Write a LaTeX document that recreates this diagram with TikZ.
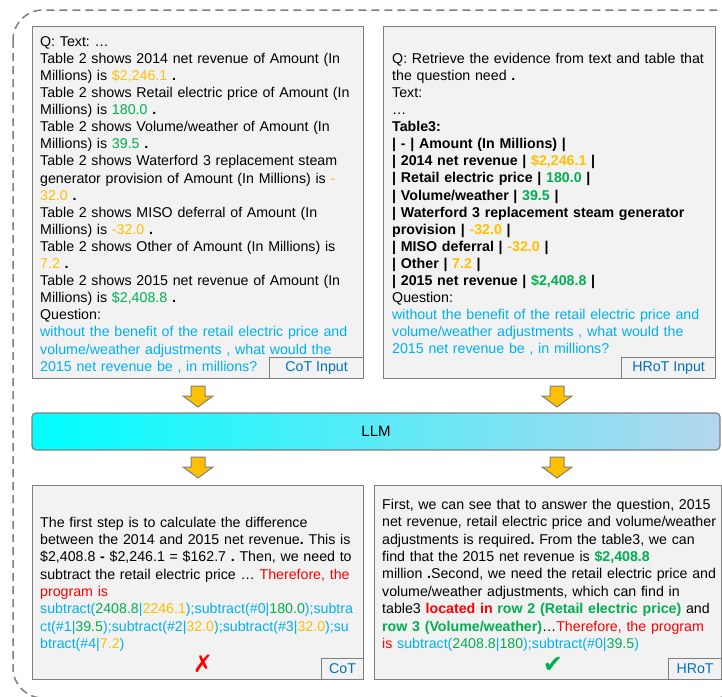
\documentclass[tikz,border=0pt]{standalone}
\usepackage{fontspec}
\setmainfont{Liberation Sans}
\newfontfamily\symfont{DejaVu Sans}
\definecolor{cgold}{HTML}{FFC000}
\definecolor{cgreen}{HTML}{00B050}
\definecolor{cblue}{HTML}{00B0F0}
\definecolor{cred}{HTML}{FF0000}
\definecolor{clabel}{HTML}{0070C0}
\definecolor{cfill}{HTML}{F2F2F2}
\definecolor{cborder}{HTML}{7F7F7F}
\definecolor{cbarright}{HTML}{B4D6EE}
\newcommand{\cgo}[1]{\textcolor{cgold}{#1}}
\newcommand{\cgr}[1]{\textcolor{cgreen}{#1}}
\newcommand{\cbl}[1]{\textcolor{cblue}{#1}}
\newcommand{\crd}[1]{\textcolor{cred}{#1}}
\newcommand{\myblockarrow}[2]{%
  \draw[yarrow] (#1-7,#2) -- (#1+7,#2) -- (#1+7,#2+10) -- (#1+15,#2+10) -- (#1,#2+21) -- (#1-15,#2+10) -- (#1-7,#2+10) -- cycle;}
\frenchspacing
\begin{document}
\begin{tikzpicture}[x=1pt,y=-1pt,
  box/.style={draw=cborder, fill=cfill, line width=1.2pt, inner sep=0pt, anchor=north west},
  tag/.style={draw=cborder, fill=cfill, line width=1.2pt, text=clabel, inner sep=0pt,
    font=\fontsize{14.2}{17}\selectfont, anchor=south east},
  txt/.style={anchor=north west, inner sep=0pt, text width=360pt, align=left,
    font=\fontsize{14.2}{#1}\selectfont\frenchspacing},
  yarrow/.style={fill=cgold, draw=cborder, line width=1pt, line join=miter}]
\useasboundingbox (0,0) rectangle (722,696);
% outer dashed frame
\draw[cborder, line width=1.5pt, dash pattern=on 8pt off 5pt, rounded corners=30pt] (13,10) rectangle (745,698);
% boxes
\node[box, minimum width=331pt, minimum height=352pt] (tlbox) at (32,26) {};
\node[box, minimum width=332pt, minimum height=352pt] (trbox) at (383,26) {};
\node[box, minimum width=331pt, minimum height=194pt] (blbox) at (32,485) {};
\node[box, minimum width=347pt, minimum height=194pt] (brbox) at (374,485) {};
% tags
\node[tag, minimum width=94pt, minimum height=21pt] (tltag) at (tlbox.south east) {CoT Input};
\node[tag, minimum width=94pt, minimum height=21pt] (trtag) at (trbox.south east) {HRoT Input};
\node[tag, minimum width=42pt, minimum height=21pt] (bltag) at (blbox.south east) {CoT};
\node[tag, minimum width=53pt, minimum height=21pt] (brtag) at (brbox.south east) {HRoT};
% texts
\node[txt=17.1pt] (tltext) at (40,34) {\rule{0pt}{12pt}Q: Text: …\\
Table 2 shows 2014 net revenue of Amount (In\\
Millions) is \cgo{\$2,246.1} \textbf{.}\\
Table 2 shows Retail electric price of Amount (In\\
Millions) is \cgr{180.0} \textbf{.}\\
Table 2 shows Volume/weather of Amount (In\\
Millions) is \cgr{39.5} \textbf{.}\\
Table 2 shows Waterford 3 replacement steam\\
generator provision of Amount (In Millions) is \cgo{-}\\
\cgo{32.0} \textbf{.}\\
Table 2 shows MISO deferral of Amount (In\\
Millions) is \cgo{-32.0} \textbf{.}\\
Table 2 shows Other of Amount (In Millions) is\\
\cgo{7.2} \textbf{.}\\
Table 2 shows 2015 net revenue of Amount (In\\
Millions) is \cgr{\$2,408.8} \textbf{.}\\
Question:\\
\cbl{without the benefit of the retail electric price and}\\
\cbl{volume/weather adjustments , what would the}\\
\cbl{2015 net revenue be , in millions?}};
\node[txt=17.1pt] (trtext) at (392,51) {\rule{0pt}{12pt}Q: Retrieve the evidence from text and table that\\
the question need \textbf{.}\\
Text:\\
…\\
\textbf{Table3:}\\
\textbf{| - | Amount (In Millions) |}\\
\textbf{| 2014 net revenue | \cgo{\$2,246.1} |}\\
\textbf{| Retail electric price | \cgr{180.0} |}\\
\textbf{| Volume/weather | \cgr{39.5} |}\\
\textbf{| Waterford 3 replacement steam generator}\\
\textbf{provision | \cgo{-32.0} |}\\
\textbf{| MISO deferral | \cgo{-32.0} |}\\
\textbf{| Other | \cgo{7.2} |}\\
\textbf{| 2015 net revenue | \cgr{\$2,408.8} |}\\
Question:\\
\cbl{without the benefit of the retail electric price and}\\
\cbl{volume/weather adjustments , what would the}\\
\cbl{2015 net revenue be , in millions?}};
\node[txt=17.3pt] (bltext) at (40,515) {\rule{0pt}{12pt}The first step is to calculate the difference\\
between the 2014 and 2015 net revenue\textbf{.} This is\\
\$2,408.8 \textbf{-} \$2,246.1 = \$162.7 \textbf{.} Then, we need to\\
subtract the retail electric price … \crd{Therefore, the}\\
\crd{program is}\\
\cbl{subtract(\cgr{2408.8}|\cgo{2246.1});subtract(\#0|\cgr{180.0});subtra}\\
\cbl{ct(\#1|\cgr{39.5});subtract(\#2|\cgo{32.0});subtract(\#3|\cgo{32.0});su}\\
\cbl{btract(\#4|\cgo{7.2})}};
\node[txt=17.4pt] (brtext) at (382,497) {\rule{0pt}{12pt}First, we can see that to answer the question, 2015\\
net revenue, retail electric price and volume/weather\\
adjustments is required\textbf{.} From the table3, we can\\
find that the 2015 net revenue is \textbf{\cgr{\$2,408.8}}\\
million \textbf{.}Second, we need the retail electric price and\\
volume/weather adjustments, which can find in\\
table3 \textbf{\crd{located in} \cgr{row 2 (Retail electric price)}} and\\
\textbf{\cgr{row 3 (Volume/weather)}}…\crd{Therefore, the program}\\
\crd{is} \cbl{subtract(\cgr{2408.8}|\cgr{180});subtract(\#0|\cgr{39.5})}};
% marks
\node[text=cred, font=\symfont\fontsize{24}{24}\selectfont, inner sep=0pt] (xmark) at (203,664) {✗};
\node[text=cgreen, font=\symfont\fontsize{24}{24}\selectfont, inner sep=0pt] (cmark) at (553,665) {✔};
% LLM bar
\node[draw=cborder, line width=1.2pt, rounded corners=4pt, left color=cyan, right color=cbarright,
  minimum width=688pt, minimum height=37pt, inner sep=0pt, font=\fontsize{15}{15}\selectfont] (llm) at (376,431.5) {LLM};
% arrows
\myblockarrow{198}{386}
\myblockarrow{557}{386}
\myblockarrow{198}{457}
\myblockarrow{557}{457}
\end{tikzpicture}
\end{document}
